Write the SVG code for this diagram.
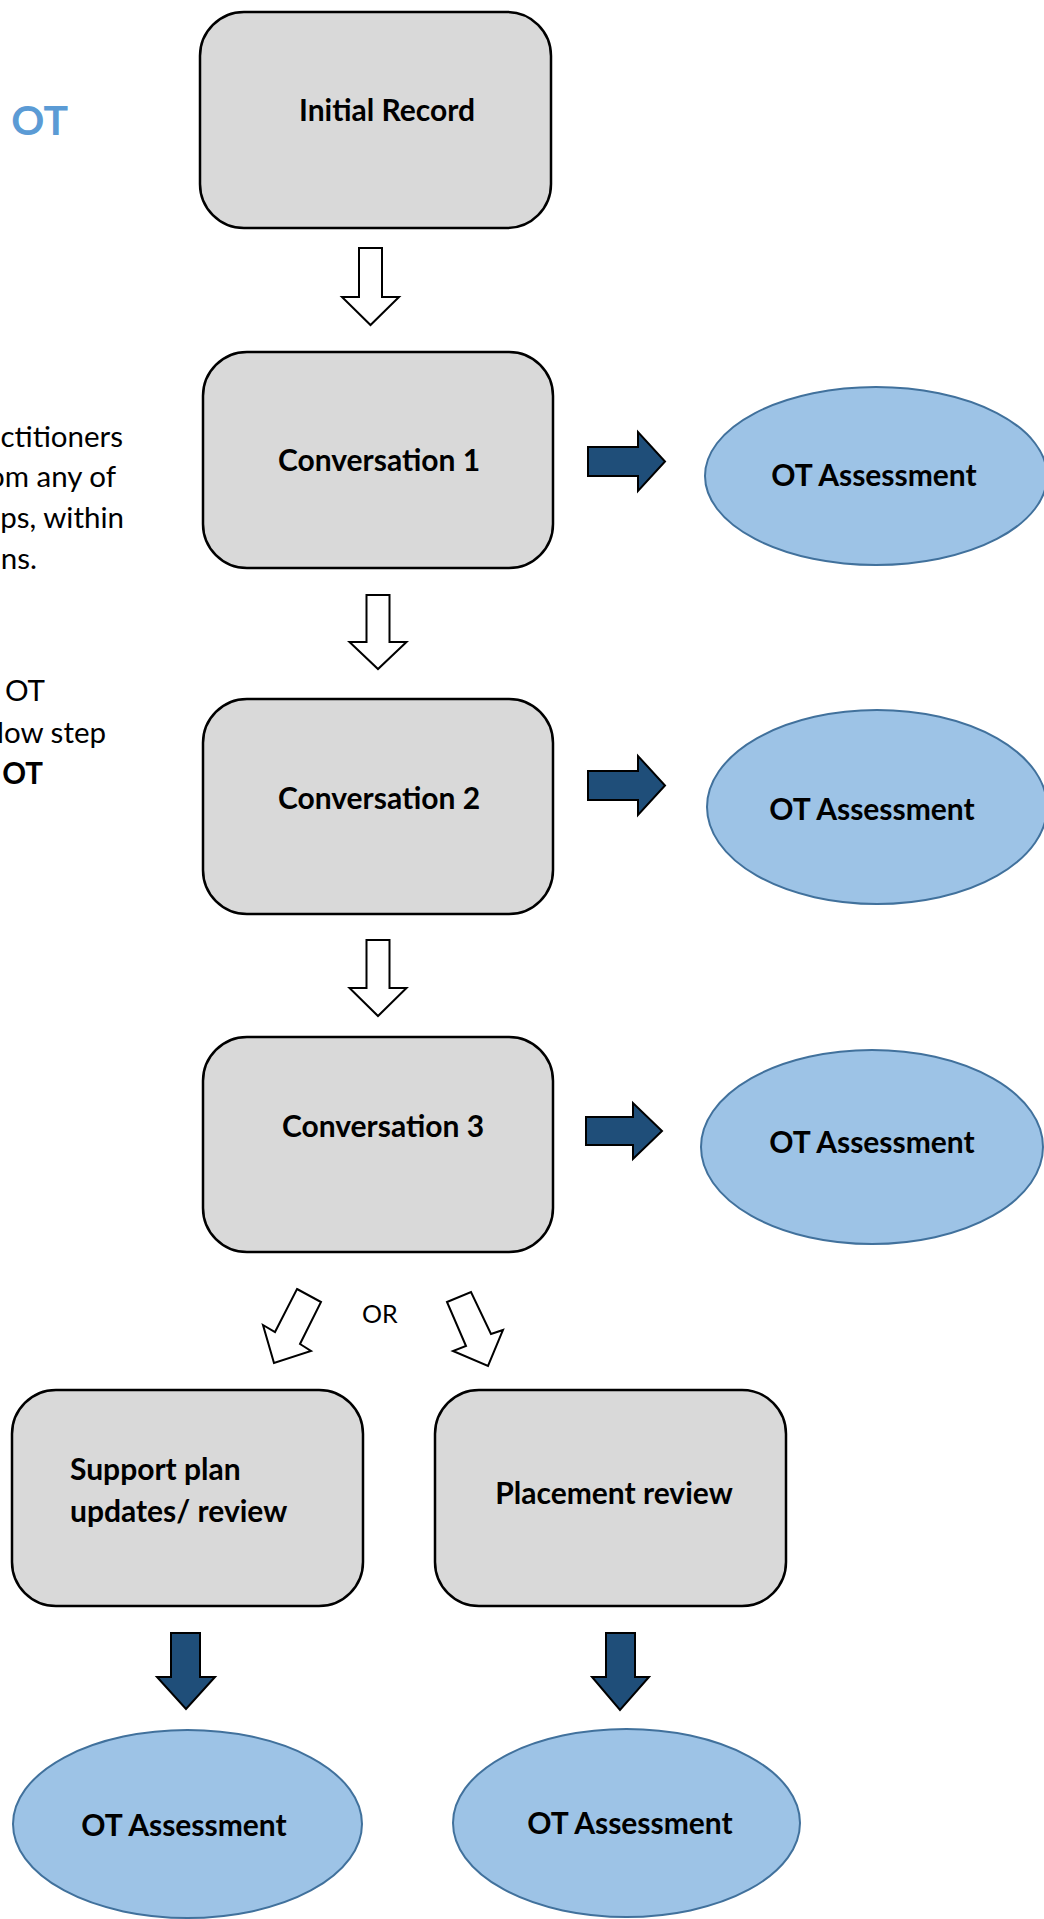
<svg xmlns="http://www.w3.org/2000/svg" width="1044" height="1919" viewBox="0 0 1044 1919">
<style>
.box{fill:#D9D9D9;stroke:#000;stroke-width:2.5}
.ell{fill:#9DC3E6;stroke:#41719C;stroke-width:2}
.hollow{fill:#fff;stroke:#000;stroke-width:2}
.solid{fill:#1F4E79;stroke:#000;stroke-width:2}
.lbl{font-family:Lato,"Liberation Sans",sans-serif;font-weight:bold;font-size:30px;fill:#000}
.para{font-family:Lato,"Liberation Sans",sans-serif;font-size:29.5px;fill:#000}
.title{font-family:Lato,"Liberation Sans",sans-serif;font-weight:bold;font-size:41px;fill:#5B9BD5}
</style>
<rect width="1044" height="1919" fill="#fff"/>
<text class="title" x="68" y="135" text-anchor="end">OT</text>
<g id="side-text" class="para" text-anchor="end">
<text x="123" y="447">actitioners</text>
<text x="116" y="487">om any of</text>
<text x="124" y="528">ps, within</text>
<text x="37" y="569">ns.</text>
<text x="45" y="701" word-spacing="-2">e OT</text>
<text x="106" y="743">low step</text>
<text x="43" y="784" font-weight="bold">OT</text>
</g>
<g id="connectors">
<polygon class="hollow" points="359,248 382,248 382,297 399,297 370.5,325 342,297 359,297"/>
<polygon class="hollow" points="366.5,595 389.5,595 389.5,642 406.5,642 378,669 349.5,642 366.5,642"/>
<polygon class="hollow" points="366.5,940 389.5,940 389.5,988 406.5,988 378,1016 349.5,988 366.5,988"/>
<polygon class="solid" points="588,447 638,447 638,432 665,461.5 638,491 638,476 588,476"/>
<polygon class="solid" points="588,771 638,771 638,756 665,785.5 638,815 638,800 588,800"/>
<polygon class="solid" points="586,1117 633,1117 633,1103 662,1131 633,1159 633,1145 586,1145"/>
<polygon class="hollow" points="297,1289 321,1302 300,1344 311,1351 274,1363 263,1325 275,1332"/>
<polygon class="hollow" points="447,1302 471,1292 491,1334 503,1330 488,1366 453,1351 466,1346"/>
<text x="362" y="1323" font-family="Lato,'Liberation Sans',sans-serif" font-size="25">OR</text>
<polygon class="solid" points="171,1633 200,1633 200,1677 215,1677 186,1709 157,1677 171,1677"/>
<polygon class="solid" points="606,1633 635,1633 635,1677 649,1677 620,1710 592,1677 606,1677"/>
</g>
<g id="initial-record">
<rect class="box" x="200" y="12" width="351" height="216" rx="44"/>
<text class="lbl" x="387" y="121" text-anchor="middle">Initial Record</text>
</g>
<g id="conversation-1">
<rect class="box" x="203" y="352" width="350" height="216" rx="44"/>
<text class="lbl" x="379" y="471" text-anchor="middle">Conversation 1</text>
</g>
<g id="conversation-2">
<rect class="box" x="203" y="699" width="350" height="215" rx="44"/>
<text class="lbl" x="379" y="809" text-anchor="middle">Conversation 2</text>
</g>
<g id="conversation-3">
<rect class="box" x="203" y="1037" width="350" height="215" rx="44"/>
<text class="lbl" x="383" y="1137" text-anchor="middle">Conversation 3</text>
</g>
<g id="support-plan">
<rect class="box" x="12" y="1390" width="351" height="216" rx="44"/>
<text class="lbl" x="70" y="1480">Support plan</text>
<text class="lbl" x="70" y="1522">updates/ review</text>
</g>
<g id="placement-review">
<rect class="box" x="435" y="1390" width="351" height="216" rx="44"/>
<text class="lbl" x="614" y="1504" text-anchor="middle">Placement review</text>
</g>
<g id="ot-1">
<ellipse class="ell" cx="876" cy="476" rx="171" ry="89"/>
<text class="lbl" x="874" y="486" text-anchor="middle">OT Assessment</text>
</g>
<g id="ot-2">
<ellipse class="ell" cx="877" cy="807" rx="170" ry="97"/>
<text class="lbl" x="872" y="820" text-anchor="middle">OT Assessment</text>
</g>
<g id="ot-3">
<ellipse class="ell" cx="872" cy="1147" rx="171" ry="97"/>
<text class="lbl" x="872" y="1153" text-anchor="middle">OT Assessment</text>
</g>
<g id="ot-4">
<ellipse class="ell" cx="187.5" cy="1824" rx="174.5" ry="94"/>
<text class="lbl" x="184" y="1836" text-anchor="middle">OT Assessment</text>
</g>
<g id="ot-5">
<ellipse class="ell" cx="626.5" cy="1823" rx="173.5" ry="94"/>
<text class="lbl" x="630" y="1834" text-anchor="middle">OT Assessment</text>
</g>
</svg>
